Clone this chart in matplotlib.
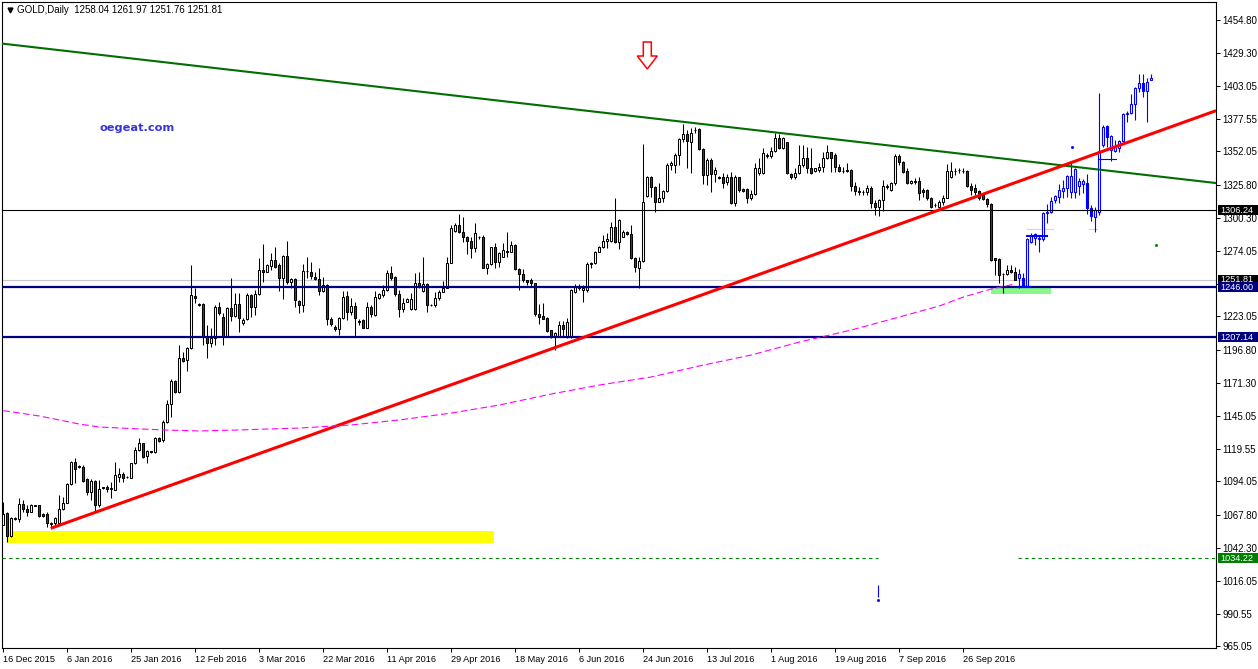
import numpy as np
import matplotlib
matplotlib.use("Agg")
import matplotlib.pyplot as plt
from matplotlib.patches import Rectangle, Polygon

plt.rcParams['font.family'] = ['Liberation Sans', 'DejaVu Sans']

# ---------------- data ----------------
# real daily candles (index 0 = 16 Dec 2015)
opens = [1060.0, 1069.1, 1051.4, 1064.4, 1064.4, 1076.1, 1072.8, 1070.4, 1075.1, 1075.4,
         1068.6, 1068.3, 1061.0, 1061.3, 1061.3, 1072.2, 1077.5, 1091.8, 1109.0, 1105.0,
         1105.6, 1095.7, 1085.5, 1094.4, 1075.6, 1089.0, 1090.0, 1088.5, 1087.3, 1097.8,
         1099.6, 1097.3, 1097.0, 1108.2, 1118.6, 1123.8, 1113.9, 1117.3, 1117.3, 1127.7,
         1126.4, 1140.8, 1154.6, 1172.3, 1163.7, 1190.3, 1189.0, 1198.1, 1239.0, 1232.0,
         1232.5, 1207.2, 1202.0, 1205.9, 1230.2, 1222.9, 1207.2, 1229.4, 1223.4, 1232.5,
         1217.7, 1220.8, 1239.8, 1230.7, 1240.3, 1259.3, 1258.0, 1262.7, 1267.1, 1263.2,
         1252.8, 1270.3, 1249.7, 1252.3, 1235.1, 1232.0, 1258.6, 1258.0, 1254.1, 1252.3,
         1242.9, 1247.6, 1221.0, 1215.0, 1213.2, 1221.5, 1239.3, 1226.2, 1231.2, 1218.9,
         1220.2, 1214.2, 1230.2, 1224.1, 1237.7, 1239.8, 1243.7, 1256.7, 1254.1, 1240.3,
         1228.8, 1234.6, 1228.8, 1228.8, 1248.9, 1242.9, 1248.1, 1232.0, 1232.0, 1237.2,
         1241.9, 1245.5, 1264.5, 1289.8, 1294.5, 1288.8, 1285.4, 1282.0, 1276.3, 1284.9,
         1284.9, 1261.2, 1263.8, 1277.0, 1265.8, 1269.7, 1273.1, 1273.7, 1278.9, 1259.8,
         1255.9, 1251.5, 1251.5, 1248.9, 1224.7, 1223.6, 1222.1, 1212.4, 1208.0, 1208.0,
         1216.3, 1207.2, 1207.2, 1242.4, 1247.1, 1243.7, 1243.7, 1263.8, 1264.5, 1273.7,
         1277.0, 1282.0, 1282.0, 1292.7, 1281.0, 1285.4, 1289.3, 1287.5, 1268.4, 1261.1,
         1266.4, 1317.4, 1332.3, 1324.5, 1312.7, 1315.4, 1321.1, 1341.4, 1341.4, 1349.2,
         1361.7, 1365.6, 1359.7, 1368.8, 1369.3, 1353.7, 1333.6, 1345.3, 1334.1, 1331.5,
         1331.8, 1327.9, 1331.8, 1311.4, 1331.8, 1322.6, 1322.6, 1315.3, 1318.7, 1334.9,
         1334.9, 1348.7, 1348.7, 1352.3, 1362.3, 1354.4, 1359.1, 1334.1, 1332.3, 1334.9,
         1341.4, 1346.6, 1338.8, 1336.7, 1337.5, 1339.6, 1346.6, 1351.3, 1349.2, 1340.1,
         1336.7, 1337.5, 1337.5, 1325.3, 1321.1, 1320.0, 1320.0, 1323.7, 1311.4, 1308.8,
         1314.0, 1324.5, 1321.9, 1327.1, 1348.4, 1343.5, 1336.7, 1327.1, 1328.4, 1328.9,
         1321.9, 1321.9, 1315.9, 1310.1, 1308.8, 1312.2, 1315.9, 1332.3, 1336.7, 1337.5,
         1336.9, 1336.7, 1325.3, 1323.2, 1321.1, 1318.0, 1314.8, 1310.7, 1268.4, 1267.9,
         1255.9, 1255.9, 1259.3, 1258.04]
highs = [1078.0, 1070.0, 1066.5, 1066.0, 1080.8, 1079.5, 1075.6, 1076.1, 1076.0, 1075.6,
         1069.0, 1070.4, 1062.6, 1066.0, 1083.4, 1082.1, 1092.6, 1110.3, 1112.1, 1107.0,
         1106.9, 1096.5, 1095.7, 1095.2, 1095.2, 1090.0, 1091.3, 1093.9, 1109.5, 1104.3,
         1101.7, 1098.0, 1108.7, 1121.2, 1127.7, 1124.4, 1118.6, 1118.2, 1129.0, 1128.5,
         1142.1, 1157.7, 1173.9, 1173.3, 1200.7, 1195.5, 1199.4, 1263.2, 1245.0, 1233.3,
         1233.3, 1216.3, 1213.7, 1232.0, 1234.6, 1225.5, 1230.7, 1252.8, 1241.1, 1241.1,
         1221.6, 1241.1, 1240.3, 1243.7, 1268.5, 1279.4, 1263.8, 1272.4, 1277.6, 1264.5,
         1271.1, 1282.0, 1252.8, 1253.3, 1235.9, 1263.8, 1269.8, 1265.8, 1258.0, 1261.2,
         1254.1, 1248.1, 1222.8, 1216.3, 1222.8, 1242.9, 1242.9, 1237.2, 1234.6, 1221.0,
         1221.0, 1234.6, 1232.0, 1242.9, 1241.1, 1247.6, 1259.3, 1262.7, 1254.9, 1243.7,
         1237.7, 1237.2, 1241.1, 1256.7, 1258.0, 1269.8, 1248.9, 1233.0, 1241.9, 1243.7,
         1250.7, 1269.8, 1294.5, 1295.8, 1302.9, 1301.0, 1286.2, 1285.4, 1295.8, 1286.2,
         1286.7, 1264.5, 1277.6, 1280.7, 1273.7, 1280.2, 1288.8, 1282.0, 1279.4, 1260.6,
         1260.1, 1251.8, 1252.8, 1249.4, 1232.5, 1233.3, 1222.8, 1212.4, 1210.6, 1219.5,
         1219.5, 1221.5, 1244.5, 1248.1, 1248.1, 1247.6, 1265.3, 1265.8, 1274.2, 1278.3,
         1286.7, 1288.0, 1296.6, 1315.9, 1299.2, 1290.6, 1289.8, 1294.5, 1269.7, 1269.7,
         1357.6, 1333.1, 1333.1, 1325.0, 1327.1, 1321.9, 1342.7, 1344.5, 1350.5, 1362.8,
         1373.2, 1368.8, 1370.1, 1371.4, 1370.1, 1354.4, 1346.6, 1346.6, 1340.1, 1332.5,
         1334.9, 1334.1, 1336.2, 1333.6, 1332.3, 1323.2, 1323.2, 1321.9, 1342.7, 1346.6,
         1354.4, 1350.5, 1355.7, 1366.2, 1365.4, 1363.6, 1359.7, 1334.9, 1338.8, 1357.0,
         1357.0, 1355.7, 1355.0, 1339.3, 1342.7, 1351.8, 1357.0, 1351.8, 1350.5, 1341.9,
         1340.1, 1342.7, 1338.3, 1328.4, 1324.5, 1321.9, 1325.8, 1325.3, 1314.0, 1314.8,
         1329.7, 1326.3, 1328.4, 1349.8, 1349.8, 1344.5, 1339.3, 1329.7, 1331.0, 1332.3,
         1323.2, 1322.6, 1316.6, 1311.4, 1314.0, 1318.0, 1341.9, 1343.5, 1339.3, 1339.3,
         1339.3, 1337.5, 1327.1, 1326.3, 1321.9, 1319.3, 1315.3, 1311.4, 1268.9, 1268.4,
         1256.7, 1263.2, 1263.2, 1261.97]
lows = [1060.0, 1047.0, 1050.9, 1064.0, 1062.6, 1070.4, 1067.0, 1070.4, 1074.5, 1066.0,
        1066.0, 1058.7, 1058.2, 1060.0, 1061.3, 1071.7, 1076.9, 1091.3, 1092.6, 1104.5,
        1093.9, 1083.4, 1079.5, 1070.4, 1074.3, 1088.0, 1086.1, 1080.8, 1087.3, 1093.9,
        1093.9, 1096.8, 1096.5, 1107.7, 1118.1, 1112.1, 1108.2, 1116.5, 1116.0, 1125.0,
        1125.1, 1139.5, 1144.7, 1162.9, 1162.9, 1187.7, 1180.6, 1197.3, 1233.3, 1231.0,
        1200.7, 1190.3, 1199.4, 1200.7, 1224.2, 1200.7, 1206.7, 1219.7, 1222.3, 1211.1,
        1216.3, 1220.3, 1222.8, 1224.1, 1239.8, 1250.2, 1258.0, 1259.3, 1260.6, 1242.9,
        1236.7, 1248.1, 1245.0, 1230.7, 1225.5, 1226.2, 1252.8, 1252.3, 1251.5, 1239.8,
        1241.9, 1216.3, 1215.8, 1211.6, 1208.5, 1221.0, 1220.2, 1224.1, 1208.0, 1216.3,
        1213.7, 1213.7, 1222.8, 1223.6, 1236.7, 1238.5, 1242.9, 1251.5, 1239.3, 1222.8,
        1226.2, 1234.1, 1228.1, 1228.1, 1245.5, 1242.4, 1226.8, 1231.0, 1230.7, 1235.9,
        1241.9, 1245.0, 1264.5, 1289.3, 1288.0, 1281.5, 1271.6, 1268.5, 1273.6, 1283.6,
        1260.6, 1255.9, 1263.2, 1261.1, 1262.0, 1269.7, 1269.7, 1273.1, 1259.3, 1243.7,
        1250.2, 1247.6, 1247.1, 1223.6, 1216.8, 1221.0, 1211.1, 1205.9, 1196.8, 1207.2,
        1207.2, 1206.4, 1206.4, 1241.1, 1243.7, 1234.0, 1242.4, 1260.6, 1263.8, 1273.1,
        1276.3, 1276.3, 1281.0, 1280.2, 1275.7, 1285.4, 1286.7, 1267.9, 1258.0, 1245.5,
        1265.8, 1316.7, 1316.7, 1304.9, 1312.2, 1312.2, 1320.0, 1337.5, 1334.9, 1341.4,
        1359.1, 1338.8, 1334.9, 1366.2, 1353.1, 1326.3, 1325.8, 1320.0, 1328.4, 1330.5,
        1323.2, 1325.8, 1310.7, 1309.6, 1320.6, 1320.6, 1311.4, 1314.0, 1318.0, 1333.6,
        1334.1, 1346.6, 1346.6, 1351.8, 1353.9, 1353.9, 1334.1, 1330.5, 1330.5, 1334.1,
        1340.1, 1334.9, 1334.1, 1335.7, 1336.2, 1336.2, 1346.1, 1335.7, 1335.7, 1336.2,
        1334.9, 1336.2, 1321.1, 1318.0, 1318.0, 1318.0, 1318.0, 1308.0, 1302.3, 1301.8,
        1305.4, 1322.6, 1321.1, 1325.8, 1341.4, 1334.9, 1326.3, 1326.3, 1326.3, 1314.0,
        1316.6, 1314.0, 1308.0, 1308.8, 1308.0, 1310.1, 1315.3, 1331.0, 1333.6, 1334.9,
        1334.9, 1324.5, 1318.0, 1318.0, 1314.0, 1314.0, 1308.8, 1266.4, 1255.4, 1248.9,
        1241.1, 1255.4, 1256.7, 1251.76]
closes = [1068.6, 1051.4, 1065.2, 1065.7, 1076.1, 1072.8, 1070.4, 1075.4, 1075.6, 1067.3,
          1067.0, 1061.3, 1061.6, 1065.2, 1072.2, 1076.9, 1091.8, 1109.5, 1103.5, 1106.0,
          1094.6, 1085.5, 1094.4, 1075.6, 1087.9, 1089.4, 1087.9, 1089.0, 1099.1, 1099.6,
          1097.0, 1097.6, 1108.2, 1118.6, 1123.8, 1113.4, 1117.8, 1117.6, 1127.7, 1125.7,
          1140.8, 1154.6, 1172.3, 1163.7, 1190.3, 1188.5, 1198.1, 1239.5, 1237.2, 1232.5,
          1207.2, 1202.0, 1205.9, 1230.2, 1225.5, 1207.2, 1229.4, 1223.4, 1232.5, 1221.6,
          1220.3, 1239.8, 1230.7, 1240.3, 1259.3, 1258.0, 1263.2, 1267.1, 1261.9, 1252.8,
          1270.3, 1249.7, 1252.3, 1235.9, 1232.0, 1258.6, 1258.8, 1254.6, 1252.3, 1242.9,
          1247.6, 1221.0, 1216.9, 1213.2, 1221.5, 1238.5, 1226.2, 1231.2, 1221.5, 1219.2,
          1214.2, 1230.2, 1224.7, 1238.5, 1240.3, 1243.7, 1256.7, 1253.3, 1240.3, 1228.8,
          1233.3, 1236.4, 1236.4, 1248.9, 1246.3, 1248.1, 1232.0, 1232.3, 1237.2, 1241.9,
          1245.5, 1264.5, 1292.4, 1294.5, 1288.8, 1285.4, 1282.0, 1276.3, 1288.0, 1285.2,
          1261.2, 1263.8, 1277.0, 1265.8, 1272.9, 1275.0, 1274.2, 1278.9, 1259.8, 1255.9,
          1251.5, 1249.7, 1248.9, 1224.7, 1222.8, 1221.0, 1211.6, 1208.0, 1209.8, 1216.3,
          1213.2, 1218.4, 1243.7, 1247.1, 1245.0, 1245.0, 1263.8, 1265.1, 1273.7, 1277.0,
          1282.0, 1283.3, 1292.7, 1281.0, 1298.4, 1288.8, 1287.2, 1268.4, 1262.0, 1266.4,
          1312.7, 1332.3, 1324.5, 1312.7, 1315.9, 1321.1, 1341.4, 1342.7, 1349.2, 1361.7,
          1365.6, 1360.4, 1366.2, 1369.0, 1353.7, 1333.6, 1345.3, 1334.1, 1337.5, 1331.8,
          1327.6, 1331.8, 1311.4, 1331.8, 1321.9, 1321.3, 1315.3, 1318.7, 1339.3, 1339.3,
          1350.5, 1349.0, 1352.3, 1362.3, 1355.0, 1362.3, 1334.9, 1332.3, 1334.9, 1341.4,
          1346.6, 1338.8, 1334.9, 1338.8, 1340.1, 1346.6, 1351.3, 1346.6, 1340.1, 1336.7,
          1336.9, 1336.7, 1325.3, 1321.1, 1320.0, 1320.2, 1323.7, 1311.4, 1308.8, 1314.0,
          1325.0, 1324.8, 1327.1, 1348.4, 1343.5, 1336.2, 1327.1, 1328.9, 1328.6, 1319.8,
          1320.6, 1315.9, 1308.8, 1310.3, 1312.2, 1315.9, 1336.7, 1336.7, 1336.9, 1337.7,
          1336.7, 1325.3, 1321.9, 1320.6, 1315.9, 1314.8, 1310.7, 1267.1, 1267.1, 1255.4,
          1256.2, 1259.3, 1257.5, 1251.81]

# projected (blue) candles drawn after the last real bar
blue_open = [1252.8, 1252.8, 1247.1, 1281.5, 1284.1, 1283.6, 1283.6, 1303.6, 1304.4, 1314.0,
             1316.7, 1321.1, 1323.2, 1320.6, 1320.6, 1325.3, 1326.8, 1327.1, 1308.0, 1301.0,
             1304.9, 1357.1, 1371.9, 1353.1, 1352.4, 1355.0, 1360.2, 1381.0, 1381.8, 1388.8,
             1401.4, 1405.3, 1399.3, 1407.9]
blue_high = [1260.1, 1256.7, 1284.6, 1288.0, 1288.0, 1286.2, 1304.9, 1310.7, 1316.7, 1318.0,
             1326.3, 1329.7, 1333.6, 1342.7, 1339.3, 1331.5, 1330.2, 1334.1, 1310.1, 1308.8,
             1397.4, 1372.7, 1372.7, 1364.9, 1361.0, 1361.0, 1381.8, 1383.6, 1396.7, 1402.7,
             1412.3, 1412.3, 1409.7, 1412.3]
blue_low = [1245.0, 1246.3, 1246.3, 1280.2, 1278.9, 1273.7, 1282.0, 1295.8, 1303.6, 1311.5,
            1311.5, 1315.4, 1316.7, 1315.4, 1315.4, 1318.0, 1319.3, 1302.9, 1297.6, 1288.8,
            1302.3, 1355.7, 1355.7, 1344.8, 1351.8, 1351.3, 1359.1, 1374.8, 1381.0, 1376.6,
            1398.7, 1394.8, 1374.8, 1407.9]
blue_close = [1255.9, 1247.1, 1283.6, 1286.2, 1287.2, 1284.6, 1303.6, 1304.9, 1313.3, 1317.2,
              1321.9, 1323.2, 1332.8, 1332.8, 1338.3, 1328.9, 1328.9, 1308.0, 1301.8, 1306.2,
              1352.4, 1371.4, 1363.6, 1364.1, 1355.7, 1360.2, 1381.0, 1381.8, 1388.8, 1401.4,
              1405.3, 1399.3, 1406.0, 1409.2]

# moving average (magenta dashed) read at bar positions
ma_idx = [0, 4, 9, 14, 19, 24, 32, 40, 49, 59, 74, 87, 99, 112, 124, 137, 149, 162, 174,
          187, 199, 212, 224, 234, 240, 247, 253]
ma_val = [1149.4, 1147.6, 1145.2, 1142.1, 1138.9, 1136.6, 1135.4, 1134.3, 1133.5, 1134.3,
          1135.8, 1138.2, 1142.1, 1147.5, 1153.8, 1162.4, 1169.4, 1175.7, 1184.3, 1192.9,
          1203.0, 1212.4, 1222.6, 1231.2, 1238.2, 1244.5, 1248.4]

# horizontal levels
level_black = 1306.24
level_bid = 1251.81
level_navy = [1246.00, 1207.14]
level_green = 1034.22

# trend lines (bar index, price)
green_trend = ([-0.8, 303.2], [1436.5, 1327.3])
red_trend = ([11.85, 303.2], [1057.4, 1383.9])

# zones (bar range, price range)
yellow_zone = (1.0, 122.7, 1045.9, 1055.3)
green_zone = (246.9, 261.9, 1240.8, 1245.5)

price_ticks = [1454.80, 1429.30, 1403.05, 1377.55, 1352.05, 1325.80, 1300.30, 1274.05,
               1248.55, 1223.05, 1196.80, 1171.30, 1145.05, 1119.55, 1094.05, 1067.80,
               1042.30, 1016.05, 990.55, 965.05]
date_labels = ["16 Dec 2015", "6 Jan 2016", "25 Jan 2016", "12 Feb 2016", "3 Mar 2016",
               "22 Mar 2016", "11 Apr 2016", "29 Apr 2016", "18 May 2016", "6 Jun 2016",
               "24 Jun 2016", "13 Jul 2016", "1 Aug 2016", "19 Aug 2016", "7 Sep 2016",
               "26 Sep 2016"]
date_step = 16

header = "GOLD,Daily  1258.04 1261.97 1251.76 1251.81"

# ---------------- figure ----------------
W, H = 1258, 669
fig = plt.figure(figsize=(W / 100, H / 100), dpi=100)
fig.patch.set_facecolor('white')
ax = fig.add_axes([2 / W, 21 / H, 1214 / W, 646 / H])
ax.set_xlim(-0.325, 303.175)
ax.set_ylim(963.85, 1468.83)
for s in ax.spines.values():
    s.set_linewidth(0.8)
    s.set_color('black')

FS = 6.6
FSY = 7.0

# zones (background)
ax.add_patch(Rectangle((yellow_zone[0], yellow_zone[2]), yellow_zone[1] - yellow_zone[0],
                       yellow_zone[3] - yellow_zone[2], facecolor='#ffff00', edgecolor='none', zorder=1))
ax.add_patch(Rectangle((green_zone[0], green_zone[2]), green_zone[1] - green_zone[0],
                       green_zone[3] - green_zone[2], facecolor='#88f888', edgecolor='none', zorder=1))

ax.axhline(level_bid, color='#c8c8c8', lw=0.8, zorder=1.5)

# real candles
o, h, l, c = (np.array(v) for v in (opens, highs, lows, closes))
idx = np.arange(len(o))
ax.vlines(idx, l, h, color='black', lw=0.75, zorder=3)
bull = c >= o
ax.bar(idx, np.maximum(np.abs(c - o), 0.2), bottom=np.minimum(o, c), width=0.55,
       color=np.where(bull, 'white', '#d40000'), edgecolor='black', linewidth=0.75, zorder=4)

# projected blue candles
bo, bh, bl, bc = (np.array(v) for v in (blue_open, blue_high, blue_low, blue_close))
bidx = np.arange(len(bo)) + len(o)
ax.vlines(bidx, bl, bh, color='#0000ff', lw=0.8, zorder=3)
bbull = bc >= bo
ax.bar(bidx, np.maximum(np.abs(bc - bo), 0.2), bottom=np.minimum(bo, bc), width=0.55,
       color=np.where(bbull, 'white', '#0000ff'), edgecolor='#0000ff', linewidth=0.8, zorder=4)

# small drawn segments around the projection
ax.plot([255.9, 260.9], [1286.2, 1286.2], color='#0000ff', lw=1.5, zorder=5)
ax.plot([273.75, 278.1], [1345.9, 1345.9], color='#0000ff', lw=0.8, zorder=5)
ax.plot([253.7, 257.0], [1246.3, 1246.3], color='#0000ff', lw=1.5, zorder=6)
ax.plot([255.8, 262.4], [1291.2, 1291.2], color='#d0d0f4', lw=0.8, zorder=2)
ax.plot([271.3, 273.3], [1291.2, 1291.2], color='#d0d0f4', lw=0.8, zorder=2)
ax.plot([267.2], [1355.5], marker='s', ms=1, color='#0000ff', zorder=5)
ax.plot([288.2], [1278.9], marker='s', ms=1, color='#008000', zorder=5)
ax.vlines(218.7, 1003.7, 1013.1, color='#0000ff', lw=0.8, zorder=5)
ax.plot([218.7], [1001.6], marker='s', ms=1, color='#0000ff', zorder=5)

# horizontal levels
ax.axhline(level_black, color='black', lw=0.8, zorder=5)
for lv in level_navy:
    ax.axhline(lv, color='#000080', lw=1.6, zorder=5)
ax.plot([-0.325, 218.7], [level_green] * 2, color='#008000', lw=0.8, ls=(0, (3, 3)), zorder=5)
ax.plot([253.7, 303.175], [level_green] * 2, color='#008000', lw=0.8, ls=(0, (3, 3)), zorder=5)

# trend lines
ax.plot(*green_trend, color='#006e00', lw=1.5, zorder=6, solid_capstyle='butt')
ax.plot(*red_trend, color='#ff0000', lw=2.2, zorder=6, solid_capstyle='butt')

# moving average
ax.plot(ma_idx, ma_val, color='#ff00ff', lw=0.8, ls=(0, (6, 3)), zorder=6)

# axes ticks
ax.yaxis.tick_right()
ax.set_yticks(price_ticks)
ax.set_yticklabels([f"{t:.2f}" for t in price_ticks])
ax.set_xticks(np.arange(len(date_labels)) * date_step)
ax.set_xticklabels(date_labels, ha='left')
ax.tick_params(axis='both', length=3, width=0.7, pad=2, color='black')
ax.tick_params(axis='x', labelsize=FS)
ax.tick_params(axis='y', labelsize=FSY, pad=1.5)

# ---------------- overlay (pixel coordinates) ----------------
ov = fig.add_axes([0, 0, 1, 1], zorder=10)
ov.set_xlim(0, W)
ov.set_ylim(H, 0)
ov.axis('off')
ov.patch.set_alpha(0)


def py(price):
    return H - ax.transData.transform((0, price))[1]


def px(i):
    return ax.transData.transform((i, 0))[0]


boxes = [(level_black, '#000000'), (level_bid, '#000000'), (level_navy[0], '#000080'),
         (level_navy[1], '#000080'), (level_green, '#008000')]
for price, col in boxes:
    y = py(price)
    ov.add_patch(Rectangle((1218, y - 5), 39.5, 10, facecolor=col, edgecolor='none', clip_on=False))
    t = ov.text(1220.5, y + 0.3, f"{price:.2f}", color='white', fontsize=FS, va='center', ha='left')
    if price == level_bid:
        # only the top part of this label shows above the 1246.00 label
        clip = Rectangle((1218, y - 5), 39.5, py(level_navy[0]) - 5 - (y - 5),
                         transform=ov.transData, visible=False)
        ov.add_patch(clip)
        t.set_clip_path(clip)

# header
ov.plot([9.5], [9.5], marker='v', ms=3.5, color='black')
ov.text(17, 10, header, fontsize=FSY, va='center', ha='left', color='black')

# watermark
ov.text(99, 128, 'oegeat.com', fontsize=8.2, fontweight='bold', color='#3535d0',
        family='DejaVu Sans', va='center', ha='left')

# red hollow arrow above the 24 Jun candle
arrow_bar = 161
ax_x = px(arrow_bar)
arrow = [(ax_x - 4, 42), (ax_x + 4, 42), (ax_x + 4, 56), (ax_x + 10, 56), (ax_x, 69),
         (ax_x - 10, 56), (ax_x - 4, 56)]
ov.add_patch(Polygon(arrow, closed=True, facecolor='white', edgecolor='#ff0000', lw=1.1))

fig.savefig('out.png', dpi=100)
